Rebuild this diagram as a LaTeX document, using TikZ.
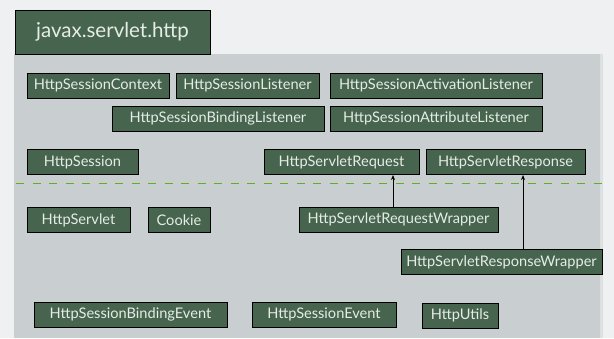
\documentclass[tikz,border=0pt]{standalone}
\usepackage{fontspec}
\setmainfont{Lato}
\usetikzlibrary{arrows.meta}
\definecolor{pagebg}{HTML}{EEF0F2}
\definecolor{panelbg}{HTML}{C9CFD0}
\definecolor{panelrim}{HTML}{DCE0E1}
\definecolor{classfill}{HTML}{46644E}
\definecolor{classtext}{HTML}{E6ECE6}
\definecolor{sepgreen}{HTML}{5CB026}
\tikzset{
  cls/.style={draw=black, line width=1pt, fill=classfill,
    text=classtext, inner sep=0pt, minimum height=25pt,
    font=\fontsize{14.6}{16}\selectfont},
  pkg/.style={cls, minimum height=44pt, font=\fontsize{20.5}{23}\selectfont},
  inherit/.style={-{Stealth[length=5pt,width=4pt]}, line width=0.9pt, draw=black},
  sepline/.style={draw=sepgreen, line width=1.8pt, dash pattern=on 8pt off 8.5pt},
}
\begin{document}
\begin{tikzpicture}[x=1pt,y=-1pt]
  \useasboundingbox (0,0) rectangle (614,338);
  \fill[pagebg] (0,0) rectangle (614,338);
  % package body
  \fill[panelrim] (14,54) rectangle (603,338);
  \fill[panelbg] (14,54) rectangle (600,338);

  % interfaces / classes separator
  \coordinate (sepL) at (16,183.5);
  \coordinate (sepR) at (604,183.5);
  \draw[sepline] (sepL) -- (sepR);

  \node[pkg, minimum width=195pt] (pkg) at (112.5,32) {javax.servlet.http};

  % interfaces
  \node[cls, minimum width=142pt] (hsc)  at (98,85.5)    {HttpSessionContext};
  \node[cls, minimum width=143pt] (hsl)  at (247.5,85.5) {HttpSessionListener};
  \node[cls, minimum width=212pt] (hsal) at (436,85.5)   {HttpSessionActivationListener};
  \node[cls, minimum width=212pt] (hsbl) at (218,118.5)  {HttpSessionBindingListener};
  \node[cls, minimum width=212pt] (hsatl) at (436,118.5) {HttpSessionAttributeListener};
  \node[cls, minimum width=111pt] (hs)   at (82.5,162)   {HttpSession};
  \node[cls, minimum width=155pt] (hreq) at (341.5,162)  {HttpServletRequest};
  \node[cls, minimum width=159pt] (hres) at (505.5,162)  {HttpServletResponse};

  % classes
  \node[cls, minimum width=103pt] (hsv)   at (78.5,220)   {HttpServlet};
  \node[cls, minimum width=62pt]  (ck)    at (179,220)    {Cookie};
  \node[cls, minimum width=199pt] (hreqw) at (398.5,219.5) {HttpServletRequestWrapper};
  \node[cls, minimum width=201pt] (hresw) at (501.5,262)  {HttpServletResponseWrapper};
  \node[cls, minimum width=193pt] (hsbe)  at (130.5,314.5) {HttpSessionBindingEvent};
  \node[cls, minimum width=144pt] (hse)   at (324,314.5)  {HttpSessionEvent};
  \node[cls, minimum width=76pt]  (hu)    at (460,315.5)  {HttpUtils};

  % wrappers implement the request / response interfaces
  \draw[inherit] (hreqw.north -| 393,0) -- (hreq.south -| 393,0);
  \draw[inherit] (hresw.north -| 523,0) -- (hres.south -| 523,0);
\end{tikzpicture}
\end{document}
